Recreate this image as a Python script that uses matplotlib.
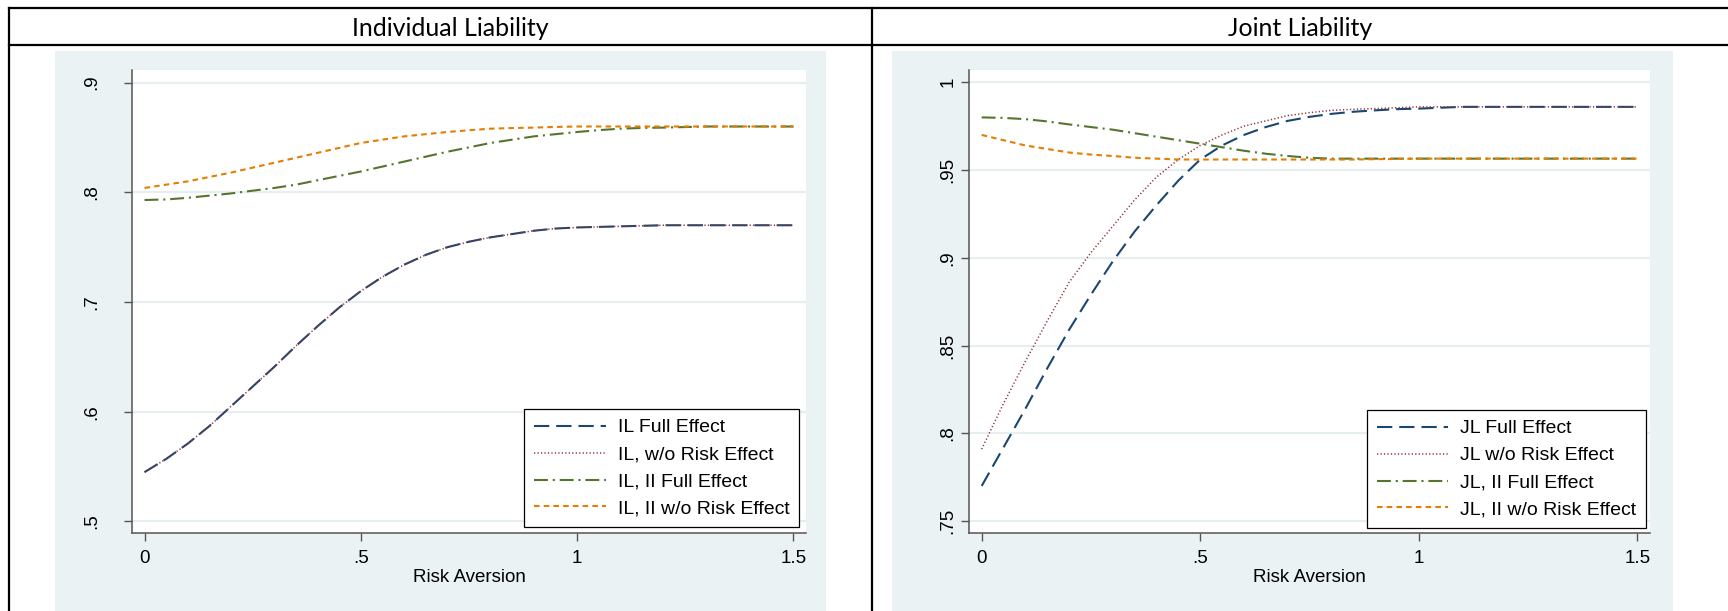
import matplotlib
matplotlib.use("Agg")
import matplotlib.pyplot as plt
from matplotlib.patches import Rectangle
from matplotlib.lines import Line2D

# risk aversion grid, step .05
x_vals = [0.0, 0.05, 0.1, 0.15, 0.2, 0.25, 0.3, 0.35, 0.4, 0.45, 0.5, 0.55, 0.6, 0.65, 0.7, 0.75,
          0.8, 0.85, 0.9, 0.95, 1.0, 1.05, 1.1, 1.15, 1.2, 1.25, 1.3, 1.35, 1.4, 1.45, 1.5]

# Individual liability panel
il_full = [0.545, 0.557, 0.571, 0.587, 0.605, 0.623, 0.641, 0.660, 0.678, 0.695, 0.710, 0.723, 0.734, 0.743,
           0.750, 0.755, 0.759, 0.762, 0.765, 0.767, 0.768, 0.7685, 0.769, 0.7695, 0.770, 0.770, 0.770,
           0.770, 0.770, 0.770, 0.770]
il_norisk = [0.545, 0.557, 0.571, 0.587, 0.605, 0.623, 0.641, 0.660, 0.678, 0.695, 0.710, 0.723, 0.734, 0.743,
             0.750, 0.755, 0.759, 0.762, 0.765, 0.767, 0.768, 0.7685, 0.769, 0.7695, 0.770, 0.770, 0.770,
             0.770, 0.770, 0.770, 0.770]
il_ii_full = [0.793, 0.7935, 0.795, 0.797, 0.799, 0.8015, 0.804, 0.807, 0.811, 0.815, 0.819, 0.8235, 0.828,
              0.8325, 0.837, 0.841, 0.845, 0.848, 0.851, 0.853, 0.855, 0.8567, 0.858, 0.8587, 0.859, 0.8595,
              0.860, 0.860, 0.860, 0.860, 0.860]
il_ii_norisk = [0.804, 0.807, 0.810, 0.814, 0.818, 0.8225, 0.827, 0.8315, 0.836, 0.8405, 0.845, 0.848, 0.851,
                0.853, 0.855, 0.8566, 0.858, 0.8586, 0.859, 0.8596, 0.860, 0.860, 0.860, 0.860, 0.860, 0.860,
                0.860, 0.860, 0.860, 0.860, 0.860]

# Joint liability panel
jl_full = [0.770, 0.792, 0.814, 0.837, 0.859, 0.879, 0.898, 0.915, 0.930, 0.944, 0.956, 0.964, 0.970, 0.9745,
           0.978, 0.9803, 0.982, 0.9832, 0.984, 0.9847, 0.985, 0.9855, 0.986, 0.986, 0.986, 0.986, 0.986,
           0.986, 0.986, 0.986, 0.986]
jl_norisk = [0.791, 0.817, 0.841, 0.864, 0.886, 0.903, 0.918, 0.933, 0.946, 0.956, 0.964, 0.970, 0.975, 0.978,
             0.981, 0.9827, 0.984, 0.9846, 0.985, 0.9855, 0.986, 0.986, 0.986, 0.986, 0.986, 0.986, 0.986,
             0.986, 0.986, 0.986, 0.986]
jl_ii_full = [0.980, 0.9797, 0.979, 0.9777, 0.976, 0.9745, 0.973, 0.971, 0.969, 0.967, 0.965, 0.963, 0.961,
              0.9593, 0.958, 0.957, 0.9565, 0.9565, 0.9565, 0.9565, 0.9565, 0.9565, 0.9565, 0.9565, 0.9565,
              0.9565, 0.9565, 0.9565, 0.9565, 0.9565, 0.9565]
jl_ii_norisk = [0.970, 0.967, 0.964, 0.962, 0.960, 0.9588, 0.958, 0.957, 0.9565, 0.956, 0.956, 0.956, 0.956,
                0.956, 0.956, 0.956, 0.956, 0.956, 0.9562, 0.9563, 0.9565, 0.9565, 0.9565, 0.9565, 0.9565,
                0.9565, 0.9565, 0.9565, 0.9565, 0.9565, 0.9565]

il_labels = ["IL Full Effect", "IL, w/o Risk Effect", "IL, II Full Effect", "IL, II w/o Risk Effect"]
jl_labels = ["JL Full Effect", "JL w/o Risk Effect", "JL, II Full Effect", "JL, II w/o Risk Effect"]

x_ticks = [0, 0.5, 1, 1.5]
x_ticklabels = ["0", ".5", "1", "1.5"]
il_yticks = [0.5, 0.6, 0.7, 0.8, 0.9]
il_yticklabels = [".5", ".6", ".7", ".8", ".9"]
jl_yticks = [0.75, 0.8, 0.85, 0.9, 0.95, 1.0]
jl_yticklabels = [".75", ".8", ".85", ".9", ".95", "1"]

panel_titles = ["Individual Liability", "Joint Liability"]
x_title = "Risk Aversion"

W, H = 1728, 611
plt.rcParams["font.family"] = ["Liberation Sans", "DejaVu Sans"]
plt.rcParams["lines.scale_dashes"] = False

fig = plt.figure(figsize=(W / 100, H / 100), dpi=100)
fig.patch.set_facecolor("white")


def box(x0, y0, x1, y1):
    # pixel box (top-left origin) -> figure fraction rect
    return [x0 / W, 1 - y1 / H, (x1 - x0) / W, (y1 - y0) / H]


def hline(x0, x1, y):
    fig.add_artist(Line2D([x0 / W, x1 / W], [1 - y / H, 1 - y / H], transform=fig.transFigure,
                          color="black", lw=1.6))


def vline(x, y0, y1):
    fig.add_artist(Line2D([x / W, x / W], [1 - y0 / H, 1 - y1 / H], transform=fig.transFigure,
                          color="black", lw=1.6))


# table borders
hline(9, W, 8)
hline(9, W, 45)
vline(9, 8, H)
vline(872, 8, H)

fig.text(450 / W, 1 - 29 / H, panel_titles[0], ha="center", va="center", fontsize=18, family=["Lato", "DejaVu Sans"])
fig.text(1300 / W, 1 - 29 / H, panel_titles[1], ha="center", va="center", fontsize=18, family=["Lato", "DejaVu Sans"])

# stata graph region
bg = "#EAF2F3"
for r in [box(55, 51, 826, H), box(892, 51, 1673, H)]:
    fig.add_artist(Rectangle((r[0], r[1]), r[2], r[3], transform=fig.transFigure,
                             facecolor=bg, edgecolor="none", zorder=-5))

colors = ["#1A476F", "#90353B", "#55752F", "#E37E00"]
styles = [(0, (11, 5)), (0, (0.9, 1.6)), (0, (10, 3.5, 1.5, 3.5)), (0, (4, 3))]
widths = [1.5, 1.1, 1.5, 1.5]

panels = [
    (box(132, 70, 806, 533), [il_full, il_norisk, il_ii_full, il_ii_norisk], il_labels,
     il_yticks, il_yticklabels, (0.4895, 0.9115), 17, (799, 527)),
    (box(969, 70, 1650, 533), [jl_full, jl_norisk, jl_ii_full, jl_ii_norisk], jl_labels,
     jl_yticks, jl_yticklabels, (0.7432, 1.007), 3, (1646, 528)),
]

for rect, series, labels, yt, ytl, ylim, ypad, leg in panels:
    ax = fig.add_axes(rect)
    ax.set_zorder(1)
    ax.set_facecolor("white")
    for i in range(4):
        ax.plot(x_vals, series[i], color=colors[i], linestyle=styles[i], lw=widths[i], label=labels[i])
    ax.set_xlim(-0.029, 1.529)
    ax.set_ylim(*ylim)
    ax.set_xticks(x_ticks)
    ax.set_xticklabels(x_ticklabels)
    ax.set_yticks(yt)
    ax.set_yticklabels(ytl, rotation=90, va="center")
    ax.yaxis.grid(True, color="#E6EEF0", lw=1.6)
    ax.set_axisbelow(True)
    for s in ["top", "right"]:
        ax.spines[s].set_visible(False)
    for s in ["left", "bottom"]:
        ax.spines[s].set_color("#555555")
        ax.spines[s].set_linewidth(1.1)
    ax.tick_params(axis="both", direction="out", length=6, width=1.0, color="#555555", labelsize=13.5)
    ax.tick_params(axis="y", pad=ypad)
    ax.tick_params(axis="x", pad=6.5)
    ax.set_xlabel(x_title, fontsize=13.5, labelpad=1)
    ax.legend(loc="lower right", bbox_to_anchor=(leg[0] / W, 1 - leg[1] / H), bbox_transform=fig.transFigure,
              borderaxespad=0, fontsize=14, handlelength=3.7, handletextpad=0.6, borderpad=0.5,
              labelspacing=0.48, fancybox=False, framealpha=1, edgecolor="black")
    ax.get_legend().get_frame().set_linewidth(0.9)

fig.savefig("out.png", dpi=100)
